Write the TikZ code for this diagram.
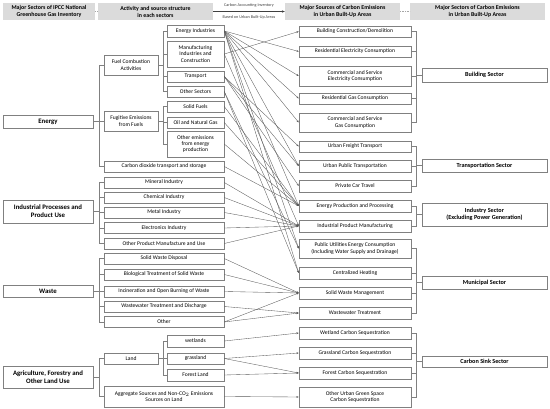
\documentclass[tikz,border=0pt]{standalone}
\usepackage{fontspec}
\setmainfont{Carlito}
\usetikzlibrary{arrows.meta,positioning,calc}

\begin{document}
\begin{tikzpicture}[x=1pt, y=-1pt,
    box/.style = {rectangle, draw=black!50, line width=0.5pt, fill=white, align=center, inner sep=1pt, font=\fontsize{5.6}{6.4}\selectfont},
    sector/.style = {box, font=\fontsize{6.8}{8}\selectfont\bfseries},
    urban/.style = {box, font=\fontsize{6.2}{7.4}\selectfont\bfseries},
    head/.style = {rectangle, fill=black!14, align=center, inner sep=1pt, font=\fontsize{5.9}{6.9}\selectfont\bfseries},
    link/.style = {draw=black!65, line width=0.35pt, -{Stealth[length=2.4pt,width=1.8pt]}},
    tree/.style = {draw=black!50, line width=0.45pt}
]
\useasboundingbox (0,0) rectangle (550,409);

% header row
\node[head, minimum width=92pt, minimum height=17pt] (h1) at (49,11.5) {Major Sectors of IPCC National\\Greenhouse Gas Inventory};
\node[head, minimum width=115pt, minimum height=17pt] (h2) at (155.5,11.5) {Activity and source structure\\in each sectors};
\node[head, minimum width=115pt, minimum height=17pt] (h3) at (342.5,11.5) {Major Sources of Carbon Emissions\\in Urban Built-Up Areas};
\node[head, minimum width=135pt, minimum height=17pt] (h4) at (477.5,11.5) {Major Sectors of Carbon Emissions\\in Urban Built-Up Areas};
\draw[densely dotted, black!35, line width=0.6pt] (h1) -- (h2);
\draw[densely dotted, black!35, line width=0.6pt] (h3) -- (h4);
\draw[black!75, line width=0.5pt, -{Stealth[length=3pt,width=2.4pt]}] (h2) --
    node[above=0.3pt, font=\fontsize{4.2}{5}\selectfont, text=black!75] {Carbon Accounting Inventory}
    node[below=0.3pt, font=\fontsize{4.2}{5}\selectfont, text=black!75] {Based on Urban Built-Up Areas} (h3);

% IPCC sectors
\node[sector, minimum width=90pt, minimum height=13pt] (energy) at (48,121.5) {Energy};
\node[sector, minimum width=90pt, minimum height=23pt] (ippu) at (48,211.5) {Industrial Processes and\\Product Use};
\node[sector, minimum width=90pt, minimum height=12pt] (waste) at (48,291.5) {Waste};
\node[sector, minimum width=90pt, minimum height=22pt] (afolu) at (48,377) {Agriculture, Forestry and\\Other Land Use};

% activities
\node[box, minimum width=54pt, minimum height=20pt] (fuel) at (131,65) {Fuel Combustion\\Activities};
\node[box, minimum width=54pt, minimum height=20pt] (fugitive) at (131,121) {Fugitive Emissions\\from Fuels};
\node[box, minimum width=120pt, minimum height=11pt] (co2) at (164,166.5) {Carbon dioxide transport and storage};
\node[box, minimum width=120pt, minimum height=11pt] (mineral) at (164,182.5) {Mineral Industry};
\node[box, minimum width=120pt, minimum height=11pt] (chemical) at (164,197.5) {Chemical Industry};
\node[box, minimum width=120pt, minimum height=11pt] (metal) at (164,212.5) {Metal Industry};
\node[box, minimum width=120pt, minimum height=11pt] (electro) at (164,228) {Electronics Industry};
\node[box, minimum width=120pt, minimum height=11pt] (otherprod) at (164,243.5) {Other Product Manufacture and Use};
\node[box, minimum width=120pt, minimum height=11pt] (swd) at (164,258.5) {Solid Waste Disposal};
\node[box, minimum width=120pt, minimum height=11pt] (bio) at (164,274.5) {Biological Treatment of Solid Waste};
\node[box, minimum width=120pt, minimum height=11pt] (incin) at (164,291.5) {Incineration and Open Burning of Waste};
\node[box, minimum width=120pt, minimum height=11pt] (wwtd) at (164,306.5) {Wastewater Treatment and Discharge};
\node[box, minimum width=120pt, minimum height=11pt] (otherw) at (164,322) {Other};
\node[box, minimum width=54pt, minimum height=11pt] (land) at (131,358.5) {Land};
\node[box, minimum width=120pt, minimum height=21pt] (agg) at (164,396.5) {Aggregate Sources and Non-CO$_2$ Emissions\\Sources on Land};

% sub-activities
\node[box, minimum width=57pt, minimum height=12pt] (ei) at (195.5,31) {Energy Industries};
\node[box, minimum width=57pt, minimum height=26pt] (mic) at (195.5,54) {Manufacturing\\Industries and\\Construction};
\node[box, minimum width=57pt, minimum height=11pt] (tr) at (195.5,76.5) {Transport};
\node[box, minimum width=57pt, minimum height=11pt] (os) at (195.5,91.5) {Other Sectors};
\node[box, minimum width=57pt, minimum height=11pt] (sf) at (195.5,106.5) {Solid Fuels};
\node[box, minimum width=57pt, minimum height=11pt] (ong) at (195.5,122.5) {Oil and Natural Gas};
\node[box, minimum width=57pt, minimum height=26pt] (oe) at (195.5,144) {Other emissions\\from energy\\production};
\node[box, minimum width=57pt, minimum height=12pt] (wet) at (195.5,341) {wetlands};
\node[box, minimum width=57pt, minimum height=11pt] (grass) at (195.5,358.5) {grassland};
\node[box, minimum width=57pt, minimum height=12pt] (forest) at (195.5,375) {Forest Land};

% urban sources
\node[box, minimum width=112pt, minimum height=11pt] (bcd) at (355,31.5) {Building Construction/Demolition};
\node[box, minimum width=112pt, minimum height=11pt] (rec) at (355,51.5) {Residential Electricity Consumption};
\node[box, minimum width=112pt, minimum height=20pt] (cse) at (355,76) {Commercial and Service\\Electricity Consumption};
\node[box, minimum width=112pt, minimum height=11pt] (rgc) at (355,98.5) {Residential Gas Consumption};
\node[box, minimum width=112pt, minimum height=19pt] (csg) at (355,122.5) {Commercial and Service\\Gas Consumption};
\node[box, minimum width=112pt, minimum height=11pt] (uft) at (355,146.5) {Urban Freight Transport};
\node[box, minimum width=112pt, minimum height=12pt] (upt) at (355,166) {Urban Public Transportation};
\node[box, minimum width=112pt, minimum height=12pt] (pct) at (355,186) {Private Car Travel};
\node[box, minimum width=112pt, minimum height=12pt] (epp) at (355,206) {Energy Production and Processing};
\node[box, minimum width=112pt, minimum height=12pt] (ipm) at (355,226) {Industrial Product Manufacturing};
\node[box, minimum width=112pt, minimum height=19pt] (puec) at (355,248.5) {Public Utilities Energy Consumption\\(Including Water Supply and Drainage)};
\node[box, minimum width=112pt, minimum height=12pt] (ch) at (355,273) {Centralized Heating};
\node[box, minimum width=112pt, minimum height=12pt] (swm) at (355,293) {Solid Waste Management};
\node[box, minimum width=112pt, minimum height=12pt] (wwt) at (355,313) {Wastewater Treatment};
\node[box, minimum width=112pt, minimum height=12pt] (wcs) at (355,333) {Wetland Carbon Sequestration};
\node[box, minimum width=112pt, minimum height=12pt] (gcs) at (355,353) {Grassland Carbon Sequestration};
\node[box, minimum width=112pt, minimum height=12pt] (fcs) at (355,373) {Forest Carbon Sequestration};
\node[box, minimum width=112pt, minimum height=20pt] (ougs) at (355,397) {Other Urban Green Space\\Carbon Sequestration};

% urban sectors
\node[urban, minimum width=125pt, minimum height=14pt] (bs) at (484.5,75) {Building Sector};
\node[urban, minimum width=125pt, minimum height=13pt] (ts) at (484.5,165.5) {Transportation Sector};
\node[urban, minimum width=125pt, minimum height=23pt] (is) at (484.5,214.5) {Industry Sector\\(Excluding Power Generation)};
\node[urban, minimum width=125pt, minimum height=13pt] (ms) at (484.5,282.5) {Municipal Sector};
\node[urban, minimum width=125pt, minimum height=11pt] (css) at (484.5,361.5) {Carbon Sink Sector};

% bracket columns
\coordinate (lx) at (99,0);
\coordinate (mx) at (163.5,0);
\coordinate (rx) at (416.5,0);

\foreach \p/\kids in {energy/{fuel,fugitive,co2}, ippu/{mineral,chemical,metal,electro,otherprod},
                      waste/{swd,bio,incin,wwtd,otherw}, afolu/{land,agg}} {
    \draw[tree] (\p.east) -- (\p.east -| lx);
    \foreach \k in \kids
        \draw[tree] (\p.east -| lx) |- (\k.west);
}
\foreach \p/\kids in {fuel/{ei,mic,tr,os}, fugitive/{sf,ong,oe}, land/{wet,grass,forest}} {
    \draw[tree] (\p.east) -- (\p.east -| mx);
    \foreach \k in \kids
        \draw[tree] (\p.east -| mx) |- (\k.west);
}
\foreach \p/\kids in {bs/{bcd,rec,cse,rgc,csg}, ts/{uft,upt,pct}, is/{epp,ipm},
                      ms/{puec,ch,swm,wwt}, css/{wcs,gcs,fcs,ougs}} {
    \draw[tree] (\p.west) -- (\p.west -| rx);
    \foreach \k in \kids
        \draw[tree] (\p.west -| rx) |- (\k.east);
}

% accounting links
\foreach \a/\b in {ei/rec, ei/cse, ei/rgc, ei/csg, ei/upt, ei/epp, ei/puec, ei/ch,
                   mic/bcd, mic/ipm, tr/uft, tr/upt, tr/pct, os/puec, os/ch,
                   sf/epp, ong/epp, oe/epp, co2/epp,
                   mineral/ipm, chemical/ipm, metal/ipm, electro/ipm, otherprod/ipm,
                   swd/swm, bio/swm, incin/swm, wwtd/wwt, otherw/swm, otherw/wwt,
                   wet/wcs, grass/gcs, grass/fcs, forest/fcs, agg/ougs}
    \draw[link] (\a.east) -- (\b.west);
\end{tikzpicture}
\end{document}
